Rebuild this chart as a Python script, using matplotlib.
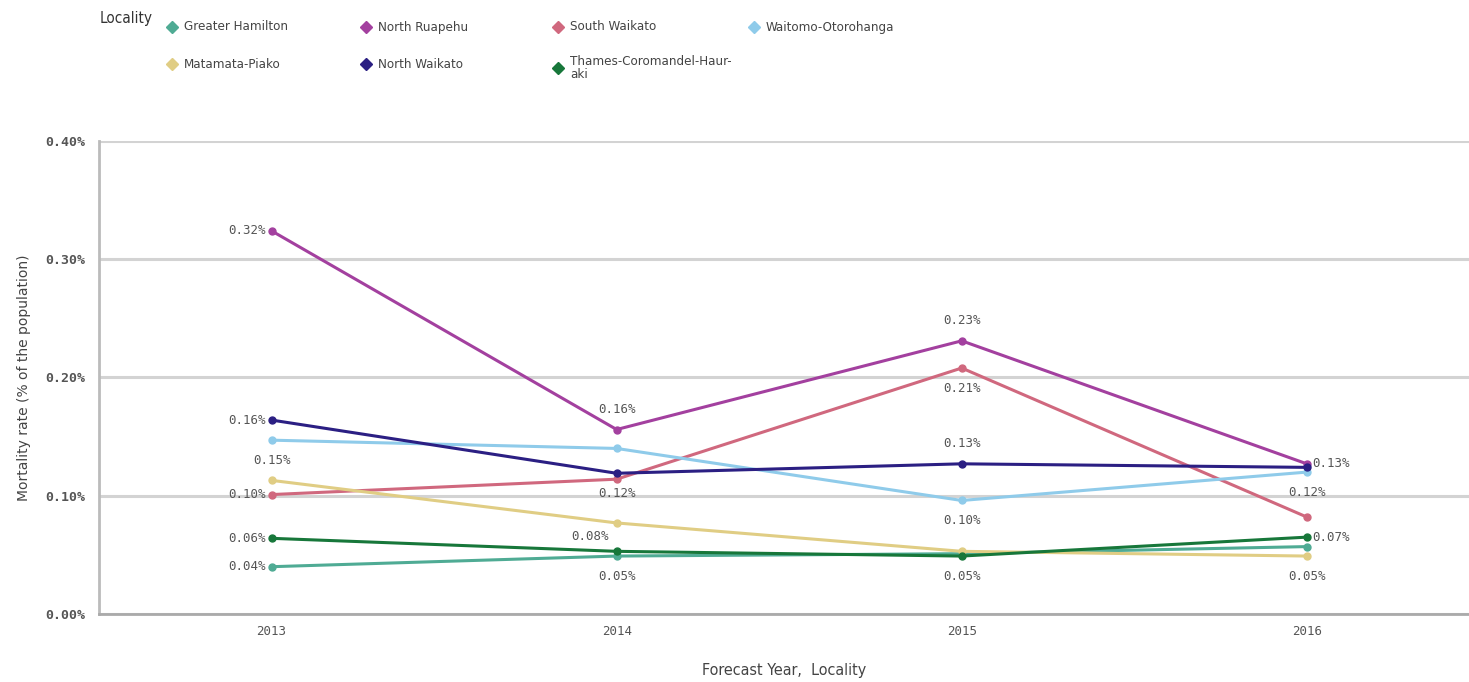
import matplotlib
matplotlib.use("Agg")
import matplotlib.pyplot as plt
from matplotlib.lines import Line2D
from matplotlib import font_manager

years = ["2013", "2014", "2015", "2016"]
localities = ["Greater Hamilton", "North Ruapehu", "South Waikato", "Waitomo-Otorohanga",
              "Matamata-Piako", "North Waikato", "Thames-Coromandel-Haur-\naki"]
greater_hamilton = [0.040, 0.049, 0.051, 0.057]
north_ruapehu = [0.324, 0.156, 0.231, 0.127]
south_waikato = [0.101, 0.114, 0.208, 0.082]
waitomo_otorohanga = [0.147, 0.140, 0.096, 0.120]
matamata_piako = [0.113, 0.077, 0.053, 0.049]
north_waikato = [0.164, 0.119, 0.127, 0.124]
thames_coromandel = [0.064, 0.053, 0.049, 0.065]
series = [greater_hamilton, north_ruapehu, south_waikato, waitomo_otorohanga,
          matamata_piako, north_waikato, thames_coromandel]
colors = ["#4fab94", "#a3409f", "#d0687e", "#8fcbea", "#e0cd84", "#2b1f83", "#17773a"]
# label placement per series per year (None = no label)
label_pos = [
    ["left", "below", None, None],
    ["left", "above", "above", "right"],
    ["left", None, "below", None],
    ["below", None, "below", "below"],
    [None, "belowleft", None, "below"],
    ["left", "below", "above", None],
    ["left", None, "below", "right"],
]
yticks = [0.0, 0.1, 0.2, 0.3, 0.4]

names = {f.name for f in font_manager.fontManager.ttflist}
cond = [f for f in font_manager.fontManager.ttflist
        if f.name == "DejaVu Sans" and f.stretch == "condensed" and f.weight in (400, "normal")]
if "Liberation Sans Narrow" in names:
    NARROW = dict(family="Liberation Sans Narrow")
elif cond:
    NARROW = dict(family="DejaVu Sans", stretch="condensed")
else:
    NARROW = dict(family="DejaVu Sans")
mono = "DejaVu Sans Mono"

fig = plt.figure(figsize=(14.69, 6.82), dpi=100)
ax = fig.add_axes([0.0674, 0.0997, 0.9326, 0.6936])
x = list(range(len(years)))
for vals, c in zip(series, colors):
    ax.plot(x, vals, color=c, lw=2.2, marker="o", ms=5, zorder=3)

offsets = {"left": (-4, 0, "right", "center"),
           "right": (4, 0, "left", "center"),
           "above": (0, 10, "center", "bottom"),
           "below": (0, -10, "center", "top"),
           "belowleft": (-19, -5, "center", "top")}
for vals, pos in zip(series, label_pos):
    for i, (v, p) in enumerate(zip(vals, pos)):
        if p is None:
            continue
        dx, dy, ha, va = offsets[p]
        ax.annotate(f"{v:.2f}%", (i, v), xytext=(dx, dy), textcoords="offset points",
                    ha=ha, va=va, fontsize=9, family=mono, color="#555555", zorder=4)

ax.set_xlim(-0.5, 3.47)
ax.set_ylim(0, 0.4)
ax.set_yticks(yticks)
ax.set_yticklabels([f"{t:.2f}%" for t in yticks], family=mono, fontsize=9.5,
                   color="#555555", fontweight="bold")
ax.set_xticks(x)
ax.set_xticklabels(years, family=mono, fontsize=9, color="#555555")
ax.tick_params(axis="both", length=0, pad=8)
ax.tick_params(axis="y", pad=10)
ax.grid(axis="y", color="#d3d3d3", lw=2.2)
ax.set_axisbelow(True)
for s in ["top", "right"]:
    ax.spines[s].set_visible(False)
ax.spines["left"].set_color("#bbbbbb")
ax.spines["left"].set_linewidth(2)
ax.spines["bottom"].set_color("#aaaaaa")
ax.spines["bottom"].set_linewidth(2)
ax.set_xlabel("Forecast Year,  Locality", fontsize=11.5, color="#444444", labelpad=18, **NARROW)
ax.set_ylabel("Mortality rate (% of the population)", family="DejaVu Sans", fontsize=10,
              color="#444444", labelpad=10)

# legend
W, H = 1469, 682
fig.text(100 / W, 1 - 18 / H, "Locality", fontsize=11, color="#333333",
         ha="left", va="center", **NARROW)
col_x = [172, 366, 558, 754]
row_y = [27, 64]
for k, (name, c) in enumerate(zip(localities, colors)):
    r, cidx = divmod(k, 4)
    mx = col_x[cidx] / W
    my = 1 - (row_y[r] + (4 if "\n" in name else 0)) / H
    fig.add_artist(Line2D([mx], [my], marker="D", ms=6, color=c, transform=fig.transFigure))
    fig.text(mx + 12 / W, my, name,
             fontsize=9.5, color="#444444", ha="left", va="center", linespacing=0.95, **NARROW)

fig.savefig("out.png", dpi=100)
